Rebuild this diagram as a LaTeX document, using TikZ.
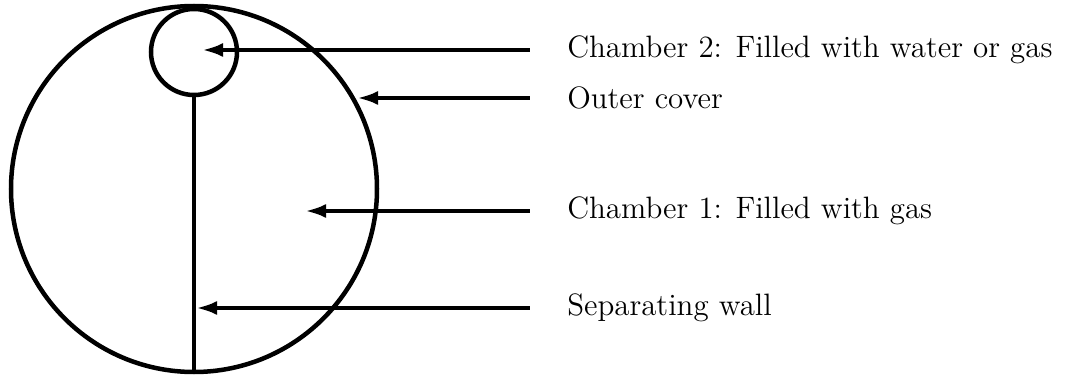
\documentclass[tikz,border=0pt]{standalone}
\usepackage{amsmath}
\usepackage{tikz}
\usetikzlibrary{arrows.meta, positioning}

\begin{document}
\begin{tikzpicture}[x=0.0125cm, y=-0.0125cm, line width=1.6pt,
    label/.style={anchor=west, inner xsep=0pt, inner ysep=0pt, font=\fontsize{11}{13.6}\selectfont},
    pointer/.style={-{Latex[length=7.5pt, width=5pt]}, shorten <=12.5pt}]
    \useasboundingbox (0,0) rectangle (1070,376);

    \node[circle, draw, minimum size=366*0.0125cm, outer sep=0pt] (cover) at (194,189) {};
    \node[circle, draw, minimum size=86*0.0125cm, outer sep=0pt] (chamber2) at (194,52) {};
    \draw (chamber2.south) -- (cover.south);

    \coordinate (tip2) at (202,50);
    \coordinate (tipcover) at (357,98);
    \coordinate (tip1) at (305,211);
    \coordinate (tipwall) at (196,308);

    \node[label] (l2) at (565,50) {Chamber 2: Filled with water or gas};
    \node[label] (lcover) at (565,98) {Outer cover};
    \node[label] (l1) at (565,211) {Chamber 1: Filled with gas};
    \node[label] (lwall) at (565,308) {Separating wall};

    \draw[pointer] (l2.west) -- (tip2);
    \draw[pointer] (lcover.west) -- (tipcover);
    \draw[pointer] (l1.west) -- (tip1);
    \draw[pointer] (lwall.west) -- (tipwall);
\end{tikzpicture}
\end{document}
